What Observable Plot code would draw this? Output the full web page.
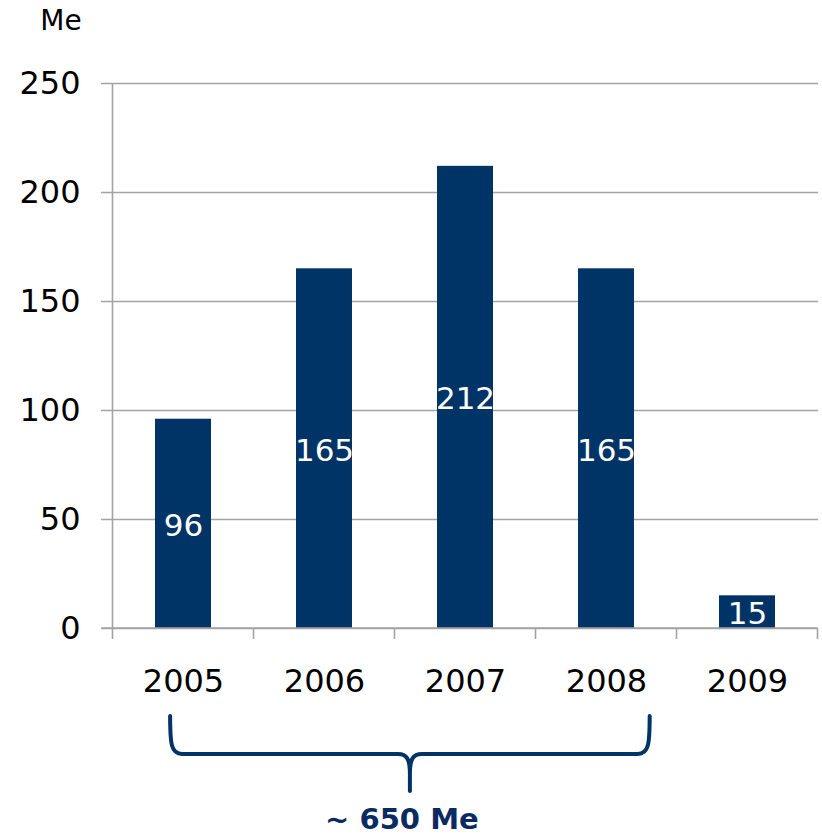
<!DOCTYPE html>
<html>
<head>
<meta charset="utf-8">
<script src="https://cdn.jsdelivr.net/npm/d3@7"></script>
<script src="https://cdn.jsdelivr.net/npm/@observablehq/plot@0.6"></script>
<style>
  html, body { margin: 0; padding: 0; background: #fff; }
  svg { display: block; }
</style>
</head>
<body>
<div id="chart"></div>
<script>
const years = ["2005", "2006", "2007", "2008", "2009"];
const values = [96, 165, 212, 165, 15];
const yTicks = [0, 50, 100, 150, 200, 250];
const unitLabel = "Me";
const braceFrom = "2005";
const braceTo = "2008";
const braceLabel = "~ 650 Me";

const navy = "#003366";
const gridColor = "#a3a3a3";
const font = "'DejaVu Sans', Verdana, sans-serif";

const data = years.map((y, i) => ({year: y, value: values[i]}));

const chart = Plot.plot({
  width: 822,
  height: 835,
  marginLeft: 112,
  marginRight: 4,
  marginTop: 83,
  marginBottom: 207,
  style: {fontFamily: font, fontSize: "32px", color: "#000", background: "#fff"},
  x: {domain: years, paddingInner: 0.6, paddingOuter: 0.3, label: null},
  y: {domain: [0, 250], label: null},
  marks: [
    Plot.ruleY(yTicks, {stroke: gridColor, strokeWidth: 1.6, insetLeft: -11}),
    Plot.barY(data, {x: "year", y: "value", fill: navy}),
    Plot.text(data, {x: "year", y: d => d.value / 2, text: d => String(d.value), fill: "#fff", fontSize: 31, dy: 2}),
    Plot.axisY({ticks: yTicks, tickSize: 0, tickPadding: 32, fontSize: 32, tickFormat: d => String(d)}),
    Plot.axisX({tickSize: 0, tickPadding: 41, fontSize: 32})
  ]
});

document.getElementById("chart").appendChild(chart);

const xs = chart.scale("x");
const ys = chart.scale("y");
const step = xs.step, bw = xs.bandwidth;
const y0 = ys.apply(0), yTop = ys.apply(250);
const svg = d3.select(chart);
const g = svg.append("g");

// axis lines
const firstBound = xs.apply(years[0]) - (step - bw) / 2;
const lastBound = xs.apply(years[years.length - 1]) + bw + (step - bw) / 2;
g.append("line").attr("x1", firstBound).attr("x2", firstBound).attr("y1", yTop).attr("y2", y0)
  .attr("stroke", gridColor).attr("stroke-width", 1.6);
g.append("line").attr("x1", firstBound - 11).attr("x2", lastBound).attr("y1", y0).attr("y2", y0)
  .attr("stroke", gridColor).attr("stroke-width", 1.6);
// category boundary ticks
for (let i = 0; i <= years.length; i++) {
  const bx = firstBound + i * step;
  g.append("line").attr("x1", bx).attr("x2", bx).attr("y1", y0).attr("y2", y0 + 11)
    .attr("stroke", gridColor).attr("stroke-width", 1.6);
}

// unit label
g.append("text").attr("x", 61).attr("y", 30).attr("text-anchor", "middle")
  .attr("font-family", font).attr("font-size", 28).attr("fill", "#000").text(unitLabel);

// brace
const x0 = xs.apply(braceFrom) + bw * 0.27;
const x1 = xs.apply(braceTo) + bw * 1.28;
const cx = (x0 + x1) / 2;
const yt = y0 + 88, ym = y0 + 126, yb = y0 + 163;
const p = `M${x0},${yt} C${x0},${ym - 10} ${x0 + 1},${ym} ${x0 + 12},${ym} L${cx - 12},${ym} C${cx - 3},${ym} ${cx},${ym + 5} ${cx},${ym + 20} L${cx},${yb}
M${cx},${ym + 20} C${cx},${ym + 5} ${cx + 3},${ym} ${cx + 12},${ym} L${x1 - 12},${ym} C${x1 - 1},${ym} ${x1},${ym - 10} ${x1},${yt}`;
g.append("path").attr("d", p).attr("fill", "none").attr("stroke", navy)
  .attr("stroke-width", 4).attr("stroke-linecap", "round").attr("stroke-linejoin", "round");

g.append("text").attr("x", cx - 8).attr("y", y0 + 201).attr("text-anchor", "middle")
  .attr("font-family", font).attr("font-size", 29).attr("font-weight", "bold").attr("fill", "#0a2a63")
  .text(braceLabel);
</script>
</body>
</html>
